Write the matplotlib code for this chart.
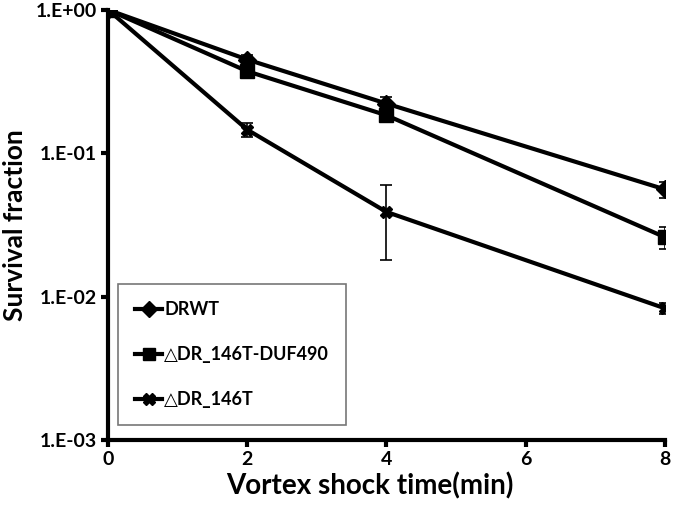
import matplotlib.pyplot as plt
import numpy as np

plt.rcParams['font.family'] = ['Lato', 'DejaVu Sans']
plt.rcParams['font.weight'] = 'bold'

time = [0, 2, 4, 8]
drwt = [1.0, 0.450, 0.222, 0.056]
drwt_err = [0.0, 0.035, 0.025, 0.0075]
duf = [1.0, 0.373, 0.184, 0.026]
duf_err = [0.0, 0.03, 0.02, 0.0045]
d146 = [1.0, 0.146, 0.039, 0.0083]
d146_err = [0.0, 0.016, 0.021, 0.0007]
labels = ['DRWT', '\u25b3DR_146T-DUF490', '\u25b3DR_146T']

fig = plt.figure(figsize=(6.75, 5.16), dpi=100)
ax = fig.add_axes([0.16, 0.147, 0.825, 0.834])

series = [(drwt, drwt_err, 'D', 9), (duf, duf_err, 's', 10), (d146, d146_err, 'X', 9)]
for (vals, err, mk, ms), lab in zip(series, labels):
    ax.errorbar(time, vals, yerr=err, fmt='none', ecolor='black',
                capsize=4, elinewidth=1.2, capthick=1.2)
    ax.plot(time, vals, color='black', lw=3, marker=mk, ms=ms, label=lab)

ax.set_yscale('log')
ax.set_ylim(1e-3, 1.0)
ax.set_xlim(0, 8)
ax.set_yticks([1e-3, 1e-2, 1e-1, 1.0])
ax.set_yticklabels(['1.E-03', '1.E-02', '1.E-01', '1.E+00'])
ax.minorticks_off()
ax.set_xticks([0, 2, 4, 6, 8])

for s in ['top', 'right']:
    ax.spines[s].set_visible(False)
for s in ['left', 'bottom']:
    ax.spines[s].set_linewidth(3)
ax.tick_params(width=3, length=5, labelsize=14, pad=3)
for t in ax.get_xticklabels() + ax.get_yticklabels():
    t.set_fontweight('bold')

ax.set_xlabel('Vortex shock time(min)', fontsize=20, fontweight='bold')
ax.xaxis.set_label_coords(0.47, -0.075)
ax.set_ylabel('Survival fraction', fontsize=19, fontweight='bold', labelpad=6)

leg = ax.legend(loc='lower left', bbox_to_anchor=(0.018, 0.035), frameon=True,
                fancybox=False, edgecolor='#555555', handlelength=1.5,
                handletextpad=0.1, labelspacing=1.55, borderpad=0.95,
                borderaxespad=0,
                prop={'weight': 'bold', 'size': 13, 'family': ['Lato', 'DejaVu Sans']})
leg.get_frame().set_linewidth(1.2)
for h in leg.legend_handles:
    h.set_markersize(8)

fig.savefig('out.png', dpi=100)
